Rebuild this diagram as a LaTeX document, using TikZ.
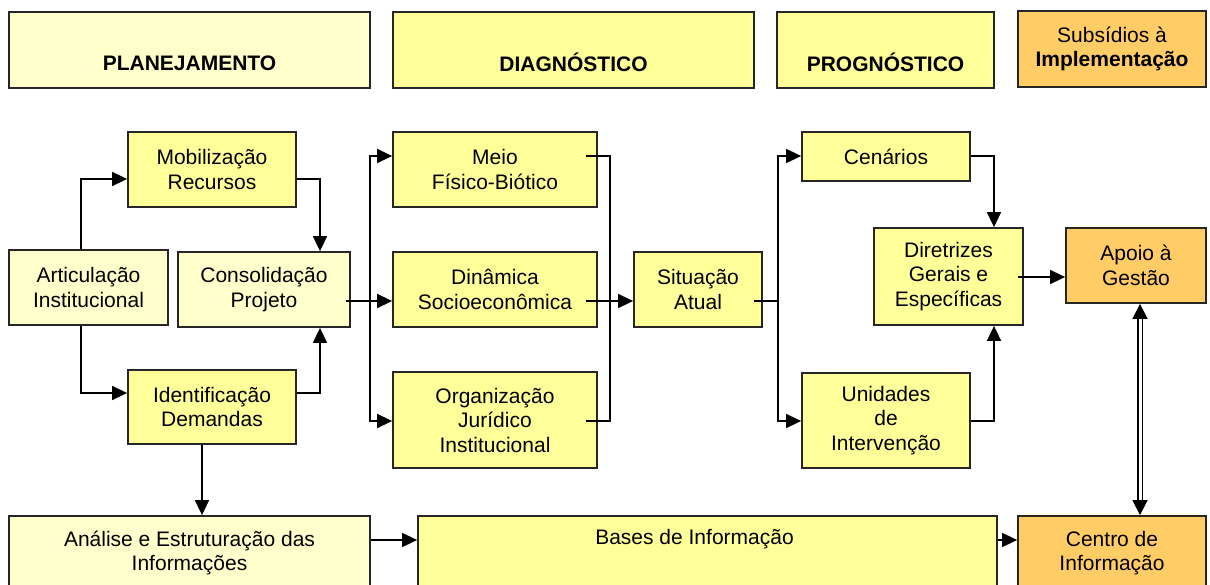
\documentclass[tikz,border=0pt]{standalone}
\usepackage{fontspec}
\setmainfont{Liberation Sans}
\usetikzlibrary{arrows.meta,calc}
\definecolor{pale}{HTML}{FFFFCC}
\definecolor{yel}{HTML}{FFFF99}
\definecolor{org}{HTML}{FFCC66}
\tikzset{
  box/.style={draw=black!85, line width=1.8pt, inner sep=0pt, align=center,
    font=\fontsize{21}{24.5}\selectfont},
  palebox/.style={box, fill=pale},
  yelbox/.style={box, fill=yel},
  orgbox/.style={box, fill=org},
  ln/.style={line width=1.6pt, black},
  arr/.style={ln, -{Triangle[length=15pt,width=14pt]}},
  dblarr/.style={black, line width=1.6pt, double, double distance=3pt,
    {Triangle[length=15pt,width=15pt]}-{Triangle[length=15pt,width=15pt]}}
}
\begin{document}
\begin{tikzpicture}[x=1pt,y=-1pt]
\useasboundingbox (0,0) rectangle (1210,585);
\clip (0,0) rectangle (1210,585);
% headers
\node[palebox, minimum width=361, minimum height=76] (planH) at (189.5,50) {\strut\\\textbf{PLANEJAMENTO}};
\node[yelbox, minimum width=361, minimum height=76] (diagH) at (573.5,50) {\strut\\\textbf{DIAGNÓSTICO}};
\node[yelbox, minimum width=217, minimum height=76] (progH) at (885.5,50) {\strut\\\textbf{PROGNÓSTICO}};
\node[orgbox, minimum width=188, minimum height=76] (subsH) at (1112,49) {Subsídios à\\\textbf{Implementação}};
% planning column
\node[yelbox, minimum width=168, minimum height=75] (mob) at (212,169.5) {Mobilização\\Recursos};
\node[palebox, minimum width=159, minimum height=75] (art) at (88.5,287.5) {Articulação\\Institucional};
\node[palebox, minimum width=172, minimum height=75] (cons) at (264,289.5) {Consolidação\\Projeto};
\node[yelbox, minimum width=168, minimum height=74] (ident) at (212,407) {Identificação\\Demandas};
% diagnosis column
\node[yelbox, minimum width=204, minimum height=75] (meio) at (495,169.5) {Meio\\Físico-Biótico};
\node[yelbox, minimum width=204, minimum height=75] (din) at (495,289.5) {Dinâmica\\Socioeconômica};
\node[yelbox, minimum width=204, minimum height=96] (orgj) at (495,420) {Organização\\Jurídico\\Institucional};
\node[yelbox, minimum width=128, minimum height=75] (sit) at (698,289.5) {Situação\\Atual};
% prognosis column
\node[yelbox, minimum width=168, minimum height=49] (cen) at (886,156.5) {Cenários};
\node[yelbox, minimum width=168, minimum height=95] (uni) at (886,420.5) {Unidades\\de\\Intervenção};
\node[yelbox, minimum width=149, minimum height=97] (dir) at (948.5,276.5) {Diretrizes\\Gerais e\\Específicas};
\node[orgbox, minimum width=140, minimum height=75] (apoio) at (1136,265.5) {Apoio à\\Gestão};
% bottom row
\node[palebox, minimum width=361, minimum height=74] (anal) at (189.5,553) {Análise e Estruturação das\\Informações};
\node[yelbox, minimum width=579, minimum height=74] (bases) at (707.5,553) {Bases de Informação\hspace*{26pt}\\\strut};
\node[orgbox, minimum width=188, minimum height=74] (centro) at (1112,553) {Centro de\\Informação};
% helper coordinates
\coordinate (a1) at (81,179);
\coordinate (a2) at (81,393);
\coordinate (a3) at (320,179);
\coordinate (a4) at (320,393);
\coordinate (busL) at (370,301);
\coordinate (busR) at (610,301);
\coordinate (busS) at (778,301);
\coordinate (m1) at (0,156);
\coordinate (o1) at (0,421);
\coordinate (d1) at (994,156);
\coordinate (d2) at (994,421);
\coordinate (e1) at (0,277);
\coordinate (f1) at (202,0);
\coordinate (g1) at (0,540);
\coordinate (dblx) at (1140,0);
% planning connectors
\draw[arr] (art.north -| a1) |- (mob.west |- a1);
\draw[arr] (art.south -| a2) |- (ident.west |- a2);
\draw[arr] (mob.east |- a3) -| (cons.north -| a3);
\draw[arr] (ident.east |- a4) -| (cons.south -| a4);
% left bus
\draw[ln] ($(cons.east |- busL)+(-5,0)$) -- (busL);
\draw[arr] (busL) |- (meio.west |- m1);
\draw[arr] (busL) -- (din.west |- busL);
\draw[arr] (busL) |- (orgj.west |- o1);
% right bus
\draw[ln] ($(meio.east |- m1)+(-12,0)$) -| (busR);
\draw[ln] ($(orgj.east |- o1)+(-12,0)$) -| (busR);
\draw[arr] ($(din.east |- busR)+(-12,0)$) -- (sit.west |- busR);
% situation bus
\draw[ln] ($(sit.east |- busS)+(-9,0)$) -- (busS);
\draw[arr] (busS) |- (cen.west |- m1);
\draw[arr] (busS) |- (uni.west |- o1);
% prognosis connectors
\draw[arr] (cen.east |- d1) -| (dir.north -| d1);
\draw[arr] (uni.east |- d2) -| (dir.south -| d2);
\draw[arr] ($(dir.east |- e1)+(-6,0)$) -- (apoio.west |- e1);
\draw[dblarr] (apoio.south -| dblx) -- (centro.north -| dblx);
% bottom connectors
\draw[arr] (ident.south -| f1) -- (anal.north -| f1);
\draw[arr] (anal.east |- g1) -- (bases.west |- g1);
\draw[arr] (bases.east |- g1) -- (centro.west |- g1);
\end{tikzpicture}
\end{document}
